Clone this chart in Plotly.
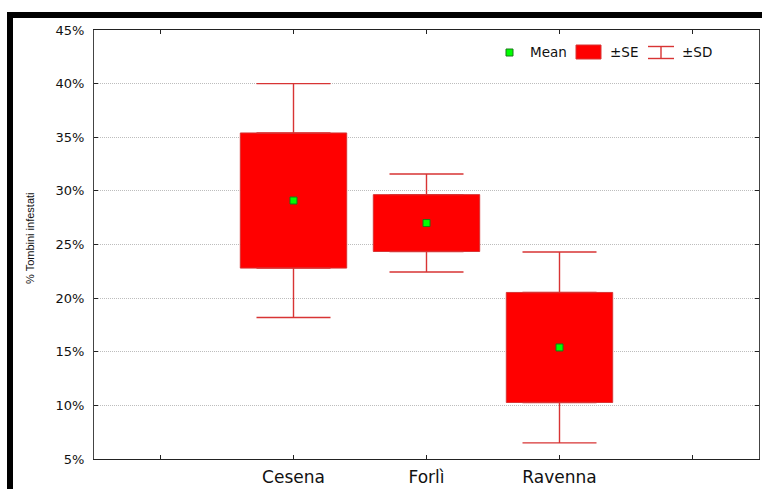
import plotly.graph_objects as go

# Data (percent)
categories = ["", "Cesena", "Forlì", "Ravenna", ""]
groups = ["Cesena", "Forlì", "Ravenna"]
group_pos = [2, 3, 4]
means = [29.1, 27.0, 15.4]
se = [6.3, 2.65, 5.13]
sd = [10.9, 4.57, 8.9]
y_ticks = [5, 10, 15, 20, 25, 30, 35, 40, 45]
y_tick_labels = [f"{v}%" for v in y_ticks]

W, H = 762, 489
L, R, T, B = 94, 3, 30, 30
pw, ph = W - L - R, H - T - B
FONT = "DejaVu Sans, Liberation Sans, Arial, sans-serif"
WHISKER = "#d83434"


def px(x):
    return (x - L) / pw


def py(y):
    return (H - B - y) / ph


fig = go.Figure()

# SD whiskers: upper part (from box top to mean+SD) and lower part
upper_start = [m + s for m, s in zip(means, se)]
lower_start = [m - s for m, s in zip(means, se)]
upper_len = [d - s for d, s in zip(sd, se)]
zeros = [0 for _ in means]
fig.add_trace(go.Scatter(
    x=group_pos, y=upper_start, mode="markers",
    marker=dict(size=1, color="rgba(0,0,0,0)"),
    error_y=dict(type="data", array=upper_len, arrayminus=zeros, symmetric=False,
                 color=WHISKER, thickness=1.4, width=37),
    showlegend=False, hoverinfo="skip"))
fig.add_trace(go.Scatter(
    x=group_pos, y=lower_start, mode="markers",
    marker=dict(size=1, color="rgba(0,0,0,0)"),
    error_y=dict(type="data", array=zeros, arrayminus=upper_len, symmetric=False,
                 color=WHISKER, thickness=1.4, width=37),
    showlegend=False, hoverinfo="skip"))

# SE boxes
fig.add_trace(go.Bar(
    x=group_pos, y=[2 * s for s in se], base=lower_start,
    width=0.8, marker=dict(color="#ff0000", line=dict(color=WHISKER, width=1)),
    showlegend=False))

# Means
fig.add_trace(go.Scatter(
    x=group_pos, y=means, mode="markers",
    marker=dict(symbol="square", size=7, color="#00ff00",
                line=dict(color="#1a7a1a", width=1)),
    showlegend=False))

fig.update_layout(
    width=W, height=H,
    margin=dict(l=L, r=R, t=T, b=B),
    paper_bgcolor="white", plot_bgcolor="white",
    font=dict(family=FONT, color="#111"),
    barmode="overlay",
    xaxis=dict(
        range=[0.5, 5.5], tickmode="array", tickvals=[1, 2, 3, 4, 5],
        ticktext=categories, ticks="inside", ticklen=4, tickcolor="#222",
        showline=True, linecolor="#222", linewidth=1, mirror="ticks",
        showgrid=False, zeroline=False, ticklabelstandoff=3,
        tickfont=dict(size=17, color="#111", family=FONT),
    ),
    yaxis=dict(
        range=[5, 45], tickmode="array", tickvals=y_ticks, ticktext=y_tick_labels,
        ticks="inside", ticklen=4, tickcolor="#222",
        showline=True, linecolor="#444", linewidth=1, mirror="ticks",
        showgrid=True, gridcolor="#bdbdbd", griddash="1px,1px", gridwidth=1,
        zeroline=False, ticklabelstandoff=6,
        tickfont=dict(size=13, color="#111", family=FONT),
    ),
    showlegend=False,
)

# Y-axis title
fig.add_annotation(xref="paper", yref="paper", x=px(30), y=py(238),
                   text="% Tombini infestati", textangle=-90, showarrow=False,
                   font=dict(size=11, color="#111", family="Liberation Sans, Arial, sans-serif"),
                   xanchor="center", yanchor="middle")

# Outer black frame (top and left)
fig.add_shape(type="rect", xref="paper", yref="paper",
              x0=px(7), x1=px(762), y0=py(18), y1=py(12),
              fillcolor="black", line=dict(width=0), layer="above")
fig.add_shape(type="rect", xref="paper", yref="paper",
              x0=px(7), x1=px(13), y0=py(489), y1=py(12),
              fillcolor="black", line=dict(width=0), layer="above")

# Manual legend
fig.add_shape(type="rect", xref="paper", yref="paper",
              x0=px(506), x1=px(513), y0=py(56), y1=py(49),
              fillcolor="#00ff00", line=dict(color="#1a7a1a", width=1))
fig.add_annotation(xref="paper", yref="paper", x=px(528), y=py(52.5), text="Mean",
                   showarrow=False, xanchor="left", yanchor="middle",
                   font=dict(size=13.5, color="#111", family=FONT))
fig.add_shape(type="rect", xref="paper", yref="paper",
              x0=px(576), x1=px(601), y0=py(59), y1=py(45),
              fillcolor="#ff0000", line=dict(color=WHISKER, width=1))
fig.add_annotation(xref="paper", yref="paper", x=px(608), y=py(52.5), text="±SE",
                   showarrow=False, xanchor="left", yanchor="middle",
                   font=dict(size=13.5, color="#111", family=FONT))
for (x0, y0, x1, y1) in [(648, 46.5, 674, 46.5), (661, 46.5, 661, 58.5), (648, 58.5, 674, 58.5)]:
    fig.add_shape(type="line", xref="paper", yref="paper",
                  x0=px(x0), y0=py(y0), x1=px(x1), y1=py(y1),
                  line=dict(color=WHISKER, width=1.4))
fig.add_annotation(xref="paper", yref="paper", x=px(680), y=py(52.5), text="±SD",
                   showarrow=False, xanchor="left", yanchor="middle",
                   font=dict(size=13.5, color="#111", family=FONT))

fig.write_html("out.html", config={"displayModeBar": False},
               post_script="document.body.style.margin='0';document.body.style.overflow='hidden';")
